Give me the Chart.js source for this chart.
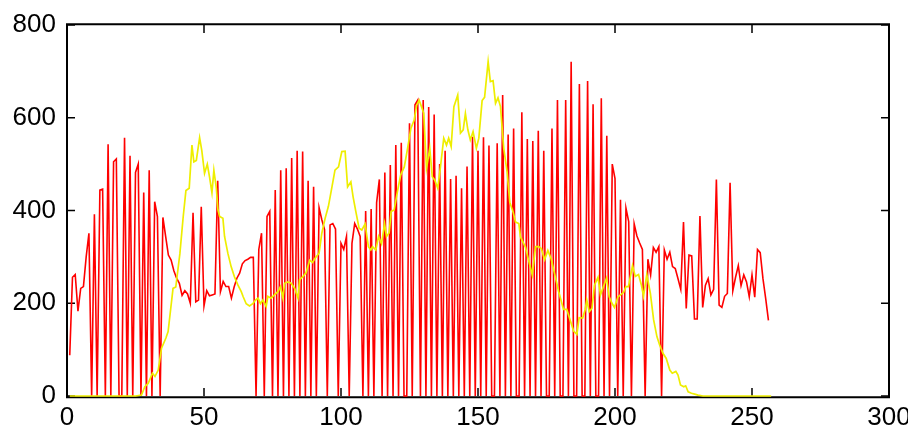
<!DOCTYPE html>
<html>
<head>
<meta charset="utf-8">
<script src="https://cdn.jsdelivr.net/npm/chart.js@4.4.0/dist/chart.umd.min.js"></script>
<style>
  html, body { margin: 0; padding: 0; background: #fff; }
  #wrap { width: 908px; height: 428px; }
</style>
</head>
<body>
<div id="wrap"><canvas id="chart" width="908" height="428"></canvas></div>
<script>
// red series, one value per x = 1..256
const redY = [
  88, 256, 262, 183, 232, 236, 300, 351, 0, 392,
  0, 444, 446, 0, 543, 0, 505, 511, 0, 0,
  557, 0, 518, 0, 482, 500, 0, 439, 0, 487,
  0, 419, 387, 0, 385, 344, 304, 293, 270, 254,
  243, 217, 227, 220, 200, 395, 203, 207, 408, 194,
  227, 216, 218, 220, 464, 225, 247, 236, 236, 211,
  235, 254, 265, 285, 292, 295, 299, 299, 0, 316,
  351, 0, 387, 398, 0, 444, 0, 487, 0, 491,
  0, 513, 0, 529, 0, 527, 0, 464, 0, 451,
  0, 406, 380, 359, 0, 369, 372, 360, 0, 329,
  316, 344, 0, 329, 372, 360, 344, 0, 399, 0,
  403, 0, 417, 467, 0, 482, 0, 498, 0, 541,
  0, 546, 0, 0, 588, 0, 628, 638, 0, 638,
  0, 623, 0, 607, 0, 500, 0, 529, 0, 468,
  0, 475, 0, 448, 0, 495, 0, 559, 0, 529,
  0, 558, 0, 540, 0, 0, 545, 0, 649, 0,
  564, 0, 577, 0, 0, 612, 0, 554, 0, 550,
  0, 572, 0, 529, 0, 0, 577, 0, 638, 0,
  0, 638, 0, 721, 0, 0, 673, 0, 0, 679,
  0, 629, 0, 0, 642, 0, 561, 0, 500, 469,
  0, 423, 0, 405, 376, 0, 371, 345, 330, 316,
  0, 295, 261, 320, 310, 322, 0, 315, 295, 310,
  279, 275, 253, 230, 375, 189, 304, 302, 166, 166,
  388, 191, 239, 253, 218, 230, 467, 196, 191, 215,
  221, 460, 227, 256, 281, 238, 261, 246, 214, 261,
  213, 316, 309, 253, 210, 163
];

// yellow (smoothed) series, vertices
const yellowX = [
  1, 25, 27.2, 28.4, 29.6, 31.2, 32.1, 33.3, 34.5, 36.1, 36.9, 38.7, 39.7, 41.2, 42.4, 43.4,
  44.6, 45.6, 46.3, 47.2, 48.4, 49.2, 50.2, 51.2, 52, 52.9, 53.6, 54.5, 55.1, 55.7, 56.9, 57.5,
  58.7, 59.9, 61.1, 62.4, 63.6, 64.3, 65.4, 66.6, 67.8, 68.8, 69.7, 70.6, 71.5, 72.7, 73.3, 74.5,
  75.7, 77, 77.9, 78.8, 79.4, 80.6, 81.8, 83.1, 84.3, 84.9, 86, 87.2, 88.6, 89.6, 90.8, 92,
  93, 94.2, 95.4, 96.7, 97.8, 99.1, 100.3, 101.5, 102.4, 103.6, 104.4, 105.4, 106.6, 107.6, 108.8, 110,
  110.9, 111.5, 112.7, 113.7, 114.8, 115.9, 116.6, 117.6, 118.3, 119.4, 120.6, 121.8, 123.1, 124.3, 125.5, 126.7,
  127.6, 128.5, 129.3, 130.2, 131.2, 132.4, 133.3, 134.2, 135.3, 136.3, 137.5, 138.5, 139.3, 140.2, 141.2, 142.6,
  143.6, 144.6, 145.4, 146.3, 147.2, 148.2, 149.4, 150.3, 151.5, 152.4, 153.7, 154.5, 155.5, 156.4, 157.3, 158.2,
  159.4, 160.6, 161.6, 162.8, 163.7, 164.9, 165.5, 167.3, 168.5, 169.8, 171, 172.1, 173.1, 174.3, 175.5, 176.7,
  177.9, 179.4, 181.2, 182.4, 183.7, 184.9, 186.1, 186.9, 188.2, 189.1, 189.7, 190.6, 191.6, 192.5, 193.8, 194.7,
  195.8, 196.9, 197.9, 198.9, 199.8, 201.1, 202, 203.1, 204, 204.9, 206.4, 207.4, 208.6, 209.6, 210.4, 211.6,
  212.9, 214.1, 215.3, 216.3, 217.5, 218.7, 220, 220.9, 222.2, 223, 223.9, 225.1, 225.8, 226.7, 227.9, 229.1,
  230.3, 232.1, 257
];
const yellowY = [
  0, 0, 2, 20, 27, 49, 42, 56, 103, 125, 139, 232, 235, 307, 386, 443,
  448, 541, 505, 508, 557, 529, 480, 500, 473, 438, 487, 448, 401, 387, 383, 344,
  308, 279, 257, 239, 225, 214, 199, 194, 199, 207, 211, 199, 207, 193, 215, 211,
  218, 225, 236, 211, 243, 246, 243, 232, 211, 251, 257, 265, 293, 288, 299, 308,
  351, 383, 409, 451, 487, 494, 527, 528, 451, 462, 430, 398, 362, 358, 371, 322,
  315, 322, 315, 344, 328, 372, 344, 352, 398, 401, 441, 477, 494, 534, 577, 595,
  627, 638, 625, 610, 491, 534, 473, 466, 448, 494, 556, 541, 556, 538, 624, 649,
  567, 574, 609, 574, 552, 570, 534, 556, 637, 644, 721, 678, 680, 631, 643, 624,
  534, 484, 418, 397, 375, 372, 343, 321, 292, 261, 322, 322, 318, 294, 314, 296,
  265, 226, 187, 187, 162, 140, 133, 169, 168, 186, 207, 182, 189, 239, 256, 218,
  236, 254, 214, 200, 191, 214, 218, 223, 236, 236, 281, 258, 262, 240, 215, 262,
  222, 164, 128, 110, 92, 81, 56, 49, 53, 45, 24, 20, 22, 9, 6, 4,
  2, 0, 0
];

const xTicks = [0, 50, 100, 150, 200, 250, 300];
const yTicks = [0, 200, 400, 600, 800];

const redPoints = redY.map((v, i) => ({ x: i + 1, y: v }));
const yellowPoints = yellowX.map((x, i) => ({ x: x, y: yellowY[i] }));

// gnuplot style frame with inward ticks on all four sides
const framePlugin = {
  id: 'frame',
  beforeDatasetsDraw(chart) {
    const { ctx, chartArea: a, scales: { x, y } } = chart;
    const len = 8;
    ctx.save();
    ctx.strokeStyle = '#000';
    ctx.lineWidth = 1.5;
    ctx.beginPath();
    xTicks.forEach(v => {
      const px = x.getPixelForValue(v);
      ctx.moveTo(px, a.bottom); ctx.lineTo(px, a.bottom - len);
      ctx.moveTo(px, a.top); ctx.lineTo(px, a.top + len);
    });
    yTicks.forEach(v => {
      const py = y.getPixelForValue(v);
      ctx.moveTo(a.left, py); ctx.lineTo(a.left + len, py);
      ctx.moveTo(a.right, py); ctx.lineTo(a.right - len, py);
    });
    ctx.stroke();
    // border sits just outside the data area, like the reference
    const b = a.bottom + 1.2, t = a.top - 0.7;
    ctx.lineWidth = 2;
    ctx.beginPath();
    ctx.moveTo(a.left - 1, b); ctx.lineTo(a.right + 1, b);
    ctx.moveTo(a.left - 1, t); ctx.lineTo(a.right + 1, t);
    ctx.moveTo(a.left, t); ctx.lineTo(a.left, b);
    ctx.moveTo(a.right, t); ctx.lineTo(a.right, b);
    ctx.stroke();
    ctx.restore();
  }
};

const tickFont = { family: '"Liberation Sans", Arial, sans-serif', size: 26 };

new Chart(document.getElementById('chart'), {
  type: 'line',
  data: {
    datasets: [
      {
        data: yellowPoints,
        borderColor: '#eeee00',
        borderWidth: 1.7,
        pointRadius: 0,
        tension: 0,
        clip: 3,
        order: 0
      },
      {
        data: redPoints,
        borderColor: '#ff0000',
        borderWidth: 1.6,
        pointRadius: 0,
        tension: 0,
        clip: 3,
        order: 1
      }
    ]
  },
  options: {
    responsive: false,
    animation: false,
    devicePixelRatio: 1,
    layout: { padding: { left: 0, top: 25, right: 19, bottom: 0 } },
    plugins: { legend: { display: false }, tooltip: { enabled: false } },
    scales: {
      x: {
        type: 'linear',
        min: 0,
        max: 300,
        afterBuildTicks: s => { s.ticks = xTicks.map(v => ({ value: v })); },
        afterFit: s => { s.height = 32; s.paddingLeft = 0; s.paddingRight = 0; },
        grid: { display: false, drawTicks: false },
        border: { display: false },
        ticks: { color: '#000', font: tickFont, padding: 6, maxRotation: 0, autoSkip: false }
      },
      y: {
        type: 'linear',
        min: 0,
        max: 800,
        afterBuildTicks: s => { s.ticks = yTicks.map(v => ({ value: v })); },
        afterFit: s => { s.width = 67; s.paddingTop = 0; s.paddingBottom = 0; },
        grid: { display: false, drawTicks: false },
        border: { display: false },
        ticks: { color: '#000', font: tickFont, padding: 11, autoSkip: false }
      }
    }
  },
  plugins: [framePlugin]
});
</script>
</body>
</html>
